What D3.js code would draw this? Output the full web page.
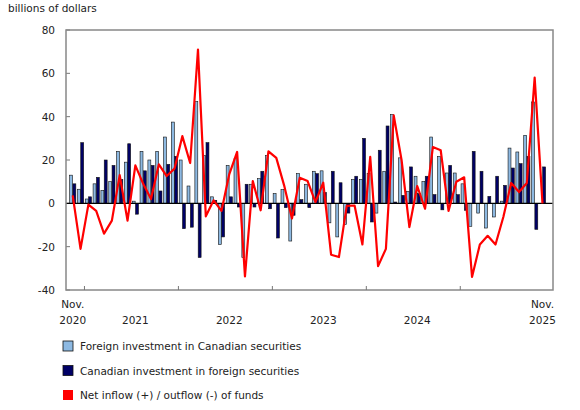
<!DOCTYPE html>
<html>
<head>
<meta charset="utf-8">
<script src="https://cdn.jsdelivr.net/npm/d3@7"></script>
<style>
  body { margin: 0; background: #fff; font-family: "DejaVu Sans", Verdana, sans-serif; }
  svg text { font-family: "DejaVu Sans", Verdana, sans-serif; font-size: 10.5px; fill: #222; }
</style>
</head>
<body>
<div id="chart"></div>
<script>
// Nov 2020 .. Nov 2025, monthly
const months = d3.range(61);
const foreignInCanada = [13, 6.5, 2, 9, 6, 10, 24, 19, 1, 24, 20, 24, 30.6, 37.5, 20, 8, 47, 22, 3, -19, 17.5,
  20.6, -25, 8.8, 11.4, 22, 4.5, 6.3, -17.4, 13.7, 8.8, 14.8, 15, -9, -15.5, -9.7, 11, 11, 13.7, -4.5, 14.8,
  41, 21, 5.5, 12.5, 10, 30.6, 21.7, 14, 14, 9, -10.6, -4.5, -11.4, -6.3, 1, 25.5, 23.7, 31.4, 46.8, 0];
const canadianAbroad = [9, 28, 3, 12, 20, 17.5, 11, 27.5, -5, 15, 17.5, 5.7, 18, 21.7, -11.7, -11, -25, 28, 1.4, -15.5, 3,
  -1.7, 8.8, -1.7, 14.8, -2.5, -16, -2, -5.5, 1.7, -2, 13.7, 5, 14.8, 9.5, -4.5, 12.5, 30, -8.6, 24.5, 35.7,
  0.6, 3.7, 16.8, 4.5, 12.5, 4, -3, 17.5, 4, -3.2, 24, 14.8, 3.2, 12.5, 8.3, 16.3, 18.3, 21.7, -12, 16.8];
const netFlow = [3.7, -21, -0.6, -3.5, -14, -8, 13, -8, 17.5, 9, 2, 18, 12.6, 16, 31, 18.6, 71, -6, 1.4, -3.5, 13.5,
  23.7, -33.7, 10.3, -3.2, 24, 21, 8.3, -7, 11.8, 10.3, 0.6, 9.5, -23.7, -24.8, -1.2, -1, -19, 21.4, -29, -21,
  40.6, 20, -11, 8, -2.5, 26, 24.5, -3.5, 10, 12, -34, -19, -15, -19, -6.3, 9.4, 5.2, 9.4, 58, 0];
const yTicks = [-40, -20, 0, 20, 40, 60, 80];
const xLabels = [
  { m: 0, lines: ["Nov.", "2020"] },
  { m: 8, lines: ["2021"] },
  { m: 20, lines: ["2022"] },
  { m: 32, lines: ["2023"] },
  { m: 44, lines: ["2024"] },
  { m: 60, lines: ["Nov.", "2025"] }
];
const yearStarts = [2, 14, 26, 38, 50];
const legendItems = [
  { label: "Foreign investment in Canadian securities", color: "#8db9e2", type: "box" },
  { label: "Canadian investment in foreign securities", color: "#000066", type: "box" },
  { label: "Net inflow (+) / outflow (-) of funds", color: "#ff0000", type: "line" }
];

const width = 580, height = 410;
const plot = { left: 66, right: 553, top: 30, bottom: 290 };

const svg = d3.select("#chart").append("svg")
  .attr("width", width).attr("height", height);

const x = d3.scaleBand().domain(months).range([68.8, 546.4]).padding(0);
const xs = d3.scaleBand().domain(["L", "D"]).range([0.4, x.bandwidth() - 0.4]).padding(0.12);
const y = d3.scaleLinear().domain([-40, 80]).range([plot.bottom, plot.top]);

svg.append("text").attr("x", 8).attr("y", 12).text("billions of dollars");

// y axis labels and ticks
const gy = svg.append("g");
yTicks.forEach(t => {
  gy.append("text").attr("x", 55).attr("y", y(t) + 4).attr("text-anchor", "end").text(t);
  gy.append("line").attr("x1", plot.left).attr("x2", plot.left + 4)
    .attr("y1", y(t)).attr("y2", y(t)).attr("stroke", "#777");
});

// bars
const bars = svg.append("g");
months.forEach(m => {
  [["L", foreignInCanada[m], "#8db9e2"], ["D", canadianAbroad[m], "#000066"]].forEach(([k, v, c]) => {
    bars.append("rect")
      .attr("x", x(m) + xs(k))
      .attr("width", xs.bandwidth())
      .attr("y", y(Math.max(0, v)))
      .attr("height", Math.abs(y(v) - y(0)))
      .attr("fill", c)
      .attr("stroke", "#111").attr("stroke-width", 0.6);
  });
});

// zero line
svg.append("line").attr("x1", plot.left).attr("x2", plot.right)
  .attr("y1", y(0)).attr("y2", y(0)).attr("stroke", "#000").attr("stroke-width", 1.2);

// net flow line
svg.append("path")
  .datum(netFlow)
  .attr("fill", "none").attr("stroke", "#ff0000").attr("stroke-width", 2.2)
  .attr("stroke-linejoin", "round")
  .attr("d", d3.line().x((d, i) => x(i) + x.bandwidth() / 2).y(d => y(d)));

// frame
svg.append("rect").attr("x", plot.left).attr("y", plot.top)
  .attr("width", plot.right - plot.left).attr("height", plot.bottom - plot.top)
  .attr("fill", "none").attr("stroke", "#888").attr("stroke-width", 1.5);

// x ticks at year boundaries
yearStarts.forEach(m => {
  svg.append("line").attr("x1", x(m)).attr("x2", x(m))
    .attr("y1", plot.bottom).attr("y2", plot.bottom - 4).attr("stroke", "#777");
});
xLabels.forEach(d => {
  const cx = x(d.m) + x.bandwidth() / 2;
  const base = d.lines.length === 2 ? 308 : 324;
  d.lines.forEach((s, i) => {
    svg.append("text").attr("x", cx).attr("y", base + i * 16)
      .attr("text-anchor", "middle").text(s);
  });
});

// legend
const lg = svg.append("g");
legendItems.forEach((d, i) => {
  const ly = 346 + i * 24.5;
  if (d.type === "box") {
    lg.append("rect").attr("x", 63).attr("y", ly - 5).attr("width", 10).attr("height", 10)
      .attr("fill", d.color).attr("stroke", "#111").attr("stroke-width", 0.8);
  } else {
    lg.append("rect").attr("x", 63).attr("y", ly - 5).attr("width", 10).attr("height", 10)
      .attr("fill", d.color);
  }
  lg.append("text").attr("x", 80).attr("y", ly + 4).text(d.label);
});
</script>
</body>
</html>
